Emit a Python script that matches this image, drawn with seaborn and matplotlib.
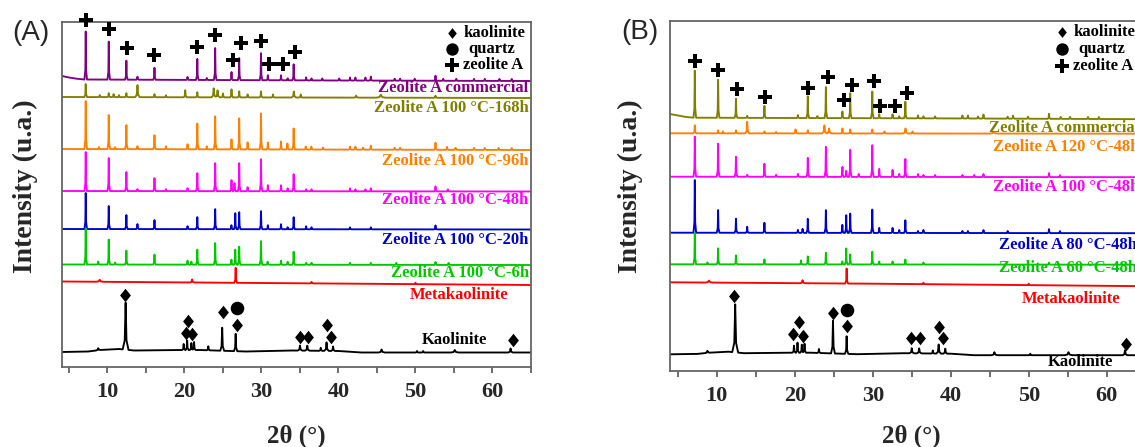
import numpy as np
import matplotlib
matplotlib.use("Agg")
import matplotlib.pyplot as plt
import seaborn as sns
from matplotlib.ticker import MultipleLocator
from matplotlib.path import Path

# ---------------- DATA ----------------
XLIM_A = (4.1, 65.0)
XLIM_B = (4.0, 65.0)

# Panel A samples: baseline anchors (2theta, level) + peaks (2theta, height[, width])
A_comm_bx = [4.1, 5.0, 6.0, 7.0, 40.0, 65.0]
A_comm_by = [291, 289.5, 288.3, 287.5, 286.5, 286]
A_comm_pos = [7.18, 10.17, 12.46, 13.9, 16.11, 20.4, 21.67, 22.9, 23.99, 26.11, 27.11, 29.94, 30.83, 32.54, 33.4, 34.18,
              35.8, 36.5, 37.9, 40.1, 41.5, 42.2, 43.5, 44.2, 47.3, 48.0, 49.9, 52.6, 53.6, 55.3, 57.6, 59.0, 60.9, 62.5]
A_comm_h = [48, 38, 19, 3, 12, 3, 21, 2, 32, 8, 22, 27, 5, 5, 2, 16,
            3, 2, 2, 2, 3, 3, 3, 4, 2, 2, 2, 5, 2, 2, 2, 2, 2, 2]

A_168_bx = [4.1, 65.0]
A_168_by = [270, 269]
A_168_pos = [7.18, 9.0, 10.17, 10.8, 11.5, 12.46, 13.9, 16.11, 17.6, 20.1, 21.67, 23.8, 24.3, 25.0, 26.11, 27.11,
             28.2, 29.94, 31.5, 34.2, 35.1, 42.3, 45.5, 52.6]
A_168_h = [13, 2, 4, 3, 2, 4, 12, 3, 2, 7, 5, 9, 7, 4, 8, 6, 3, 6, 3, 6, 3, 2, 3, 2]
A_168_w = [0.18, 0.18, 0.18, 0.18, 0.18, 0.18, 0.3, 0.18, 0.18, 0.2, 0.18, 0.3, 0.3, 0.2, 0.18, 0.18,
           0.2, 0.2, 0.2, 0.3, 0.2, 0.3, 0.6, 0.2]

A_96_bx = [4.1, 65.0]
A_96_by = [218, 217]
A_96_pos = [7.18, 8.9, 10.17, 11.0, 12.46, 13.9, 16.11, 17.6, 20.4, 21.67, 22.9, 23.99, 26.11, 27.11, 28.2, 29.94,
            30.83, 32.54, 33.37, 34.18, 35.75, 36.48, 38.0, 41.5, 42.2, 43.2, 44.2, 47.3, 48.0, 52.6, 54.1, 55.2,
            57.6, 59.0, 60.8, 62.5]
A_96_h = [48, 2, 34, 2, 24, 3, 14, 3, 5, 25.7, 3, 33, 10, 31, 7, 36,
          7, 8, 6, 21, 3, 3, 2, 3, 3, 2, 4, 2, 2, 7, 3, 2, 2, 2, 2, 2]

A_48_bx = [4.1, 65.0]
A_48_by = [176, 175.5]
A_48_pos = [7.18, 10.17, 12.46, 13.9, 16.11, 17.6, 20.4, 21.67, 23.99, 26.11, 26.5, 27.11, 28.2, 29.94, 30.83, 32.54,
            33.4, 34.18, 35.8, 36.5, 41.5, 42.2, 43.5, 44.2, 52.6, 54.2]
A_48_h = [39, 33, 19, 2, 13, 2, 3, 18, 28, 11, 8, 28, 4, 32, 6, 6, 3, 17, 2, 2, 3, 2, 2, 3, 5, 2]

A_20_bx = [4.1, 65.0]
A_20_by = [138, 137.5]
A_20_pos = [7.18, 10.17, 12.46, 13.9, 16.11, 20.4, 21.67, 23.99, 26.1, 26.6, 27.11, 29.94, 30.83, 32.54, 33.4, 34.18,
            35.8, 36.5, 41.5, 44.2, 52.6]
A_20_h = [36, 23, 14, 5, 9, 3, 12, 20, 4, 16, 17, 18, 4, 5, 2, 12, 3, 2, 2, 2, 4]

A_6_bx = [4.1, 65.0]
A_6_by = [102.5, 102]
A_6_pos = [7.18, 8.8, 10.17, 11.0, 12.46, 16.11, 20.4, 20.9, 21.67, 23.99, 26.1, 26.6, 27.11, 29.94, 30.8, 32.54,
           33.4, 34.18, 35.8, 36.5, 41.5, 44.2, 47.5, 52.6, 54.3]
A_6_h = [36, 3, 25, 2, 14, 10, 4, 3, 15, 21.6, 5, 15, 18, 23.6, 3, 4, 3, 13, 2, 2, 2, 2, 2, 3, 2]

A_meta_bx = [4.1, 30.0, 65.0]
A_meta_by = [85.5, 84, 82]
A_meta_pos = [9.0, 21.0, 26.65, 36.5, 50.0]
A_meta_h = [2, 3, 15, 1.5, 1.5]
A_meta_w = [0.5, 0.3, 0.18, 0.2, 0.2]

A_kao_bx = [4.1, 7.5, 9.0, 11.5, 13.5, 19.5, 22.0, 28.0, 34.0, 40.0, 43.0, 65.0]
A_kao_by = [15, 15.5, 17, 18, 16.5, 17, 17, 15.5, 16.5, 16, 14.5, 14.5]
A_kao_pos = [8.8, 12.36, 19.9, 20.35, 20.9, 21.25, 23.1, 24.9, 26.65, 35.0, 35.95, 37.7, 38.45, 39.3, 45.6, 50.2,
             51.0, 55.1, 62.35]
A_kao_h = [2, 47, 6, 9.5, 7, 8, 4, 23, 17.3, 5, 5, 3, 8.5, 4.5, 3, 1.5, 1.5, 2.5, 4]
A_kao_w = [0.3, 0.38, 0.2, 0.2, 0.2, 0.2, 0.2, 0.25, 0.22, 0.3, 0.3, 0.2, 0.3, 0.25, 0.4, 0.2, 0.2, 0.5, 0.3]

# Panel B samples
B_comm_bx = [4.0, 5.0, 6.0, 7.0, 20.0, 40.0, 65.0]
B_comm_by = [256.7, 255.2, 253.8, 253, 252.7, 252.3, 251.5]
B_comm_pos = [7.18, 10.17, 12.46, 13.9, 16.11, 20.4, 21.67, 22.9, 23.99, 26.11, 27.11, 29.94, 30.83, 32.54, 33.4, 34.18,
              35.8, 36.5, 38.0, 41.5, 42.2, 43.5, 44.2, 47.3, 48.0, 49.9, 52.6, 54.1, 55.3, 57.6, 59.0]
B_comm_h = [47, 38, 19, 2, 12, 3, 21.6, 2, 31, 6.6, 25, 26.6, 4, 4, 2, 16.6,
            3, 2, 2, 3, 3, 2, 4, 2, 3, 2, 5, 2, 2, 2, 2]

B_120_bx = [4.0, 65.0]
B_120_by = [237.4, 237]
B_120_pos = [7.18, 10.17, 10.8, 12.46, 13.9, 16.11, 17.6, 20.1, 21.67, 23.8, 24.4, 26.11, 27.11, 29.94, 31.5, 34.2,
             35.1, 45.5]
B_120_h = [8, 3, 2, 3, 11.6, 2, 1.5, 4, 3, 8, 5, 5, 4, 4, 2, 5, 2, 2]
B_120_w = [0.18, 0.18, 0.18, 0.18, 0.25, 0.18, 0.18, 0.2, 0.18, 0.3, 0.3, 0.18, 0.18, 0.18, 0.2, 0.3, 0.2, 0.5]

B_100_bx = [4.0, 65.0]
B_100_by = [194, 193.5]
B_100_pos = [7.18, 10.17, 12.46, 13.9, 16.11, 17.6, 20.4, 21.67, 23.99, 26.11, 26.6, 27.11, 28.2, 29.94, 30.83, 32.54,
             33.4, 34.18, 35.8, 36.5, 38.0, 41.5, 43.0, 44.2, 52.6, 54.0]
B_100_h = [40, 33, 20, 2, 13, 2, 3, 19, 30, 10, 6, 27, 3, 31.7, 8, 7, 3, 18, 3, 2, 2, 2, 2, 3, 4, 2]

B_80_bx = [4.0, 65.0]
B_80_by = [138, 137.5]
B_80_pos = [7.18, 10.17, 12.46, 13.9, 16.11, 20.4, 21.0, 21.67, 23.99, 26.1, 26.6, 27.11, 29.94, 30.83, 32.54, 33.4,
            34.18, 35.8, 36.5, 41.5, 42.2, 44.2, 47.3, 52.6, 54.0]
B_80_h = [52.7, 22.7, 14, 6, 10, 3, 4, 14, 22.7, 8, 17.7, 19.3, 23.3, 5, 5, 3, 12.7, 2, 3, 2, 2, 3, 2, 4, 2]

B_60_bx = [4.0, 65.0]
B_60_by = [106.4, 106]
B_60_pos = [7.18, 8.8, 10.17, 12.46, 16.11, 20.8, 21.67, 23.99, 26.1, 26.6, 27.11, 29.94, 30.83, 32.54, 34.18, 36.5,
            52.6]
B_60_h = [31, 2, 16, 9, 5, 4, 8, 11.7, 3, 16, 10, 12.7, 3, 3, 5, 2, 2]

B_meta_bx = [4.0, 30.0, 65.0]
B_meta_by = [88.4, 87, 84.5]
B_meta_pos = [9.0, 21.0, 26.65, 36.5, 50.0]
B_meta_h = [2, 3, 15, 1.5, 1.5]
B_meta_w = [0.5, 0.3, 0.18, 0.2, 0.2]

B_kao_bx = [4.0, 7.5, 9.0, 11.5, 13.5, 19.5, 22.0, 28.0, 34.0, 40.0, 43.0, 65.0]
B_kao_by = [16.4, 16.8, 18, 19, 17.5, 18, 18, 16.5, 17.5, 17, 15.5, 15.5]
B_kao_pos = [8.8, 12.36, 19.9, 20.35, 20.9, 21.25, 23.1, 24.9, 26.65, 35.0, 35.95, 37.7, 38.45, 39.3, 45.6, 50.2,
             55.1, 62.35]
B_kao_h = [2, 48, 7, 10, 8, 9, 4, 32.6, 17.6, 5, 5, 3, 9, 5, 3, 1.5, 3, 5]
B_kao_w = [0.3, 0.38, 0.2, 0.2, 0.2, 0.2, 0.2, 0.25, 0.22, 0.3, 0.3, 0.2, 0.3, 0.25, 0.4, 0.2, 0.5, 0.3]

# Phase markers
A_zeo_x = [7.2, 10.2, 12.5, 16.1, 21.6, 24.0, 26.3, 27.3, 30.0, 31.0, 32.8, 34.4]
A_zeo_y = [347, 338, 319, 312, 320, 332, 307, 324, 326, 303, 303, 315]
A_kao_mx = [12.3, 20.15, 20.5, 21.0, 25.0, 26.8, 35.0, 36.1, 38.5, 39.0, 62.6]
A_kao_my = [72, 34.3, 46.3, 32.7, 55.3, 42, 30.3, 30.3, 42, 29.7, 27]
A_qtz_x = [26.8]
A_qtz_y = [58.7]

B_zeo_x = [7.2, 10.2, 12.56, 16.2, 21.7, 24.2, 26.3, 27.3, 30.1, 30.9, 32.8, 34.4]
B_zeo_y = [309.7, 300.7, 281.4, 274, 282.4, 294, 270.7, 285.7, 289.7, 264.7, 264.7, 278]
B_kao_mx = [12.2, 19.8, 20.5, 21.0, 24.9, 26.7, 34.9, 36.1, 38.5, 39.05, 62.5]
B_kao_my = [74.7, 36.4, 49, 34.7, 57.4, 44.7, 33, 33, 44, 32.4, 26.7]
B_qtz_x = [26.7]
B_qtz_y = [60.7]

A_names = ["Zeolite A commercial", "Zeolite A 100 °C-168h", "Zeolite A 100 °C-96h", "Zeolite A 100 °C-48h",
           "Zeolite A 100 °C-20h", "Zeolite A 100 °C-6h", "Metakaolinite", "Kaolinite"]
B_names = ["Zeolite A commercial", "Zeolite A 120 °C-48h", "Zeolite A 100 °C-48h", "Zeolite A 80 °C-48h",
           "Zeolite A 60 °C-48h", "Metakaolinite", "Kaolinite"]

# ---------------- STYLE ----------------
PURPLE, OLIVE, ORANGE, MAGENTA = "#800080", "#808000", "#FF7F00", "#FF00FF"
BLUE, GREEN, RED, BLACK = "#0000CD", "#00C800", "#FF0000", "#000000"

sns.set_theme(style="white")
plt.rcParams['font.family'] = ['Liberation Serif', 'DejaVu Serif']

W, H = 1135, 447
fig = plt.figure(figsize=(W / 100, H / 100), dpi=100)


def px_axes(l, t, r, b):
    return fig.add_axes([l / W, 1 - b / H, (r - l) / W, (b - t) / H])


axA = px_axes(62, 22, 531, 367)
axB = px_axes(670, 20.5, 1145.7, 370.7)
axA.set_xlim(*XLIM_A); axA.set_ylim(0, 345)
axB.set_xlim(*XLIM_B); axB.set_ylim(0, 350.2)


def profile(xlim, bx, by, pos, hgt, wid=None, w0=0.17):
    pos = np.asarray(pos, float)
    hgt = np.asarray(hgt, float)
    wid = np.full(len(pos), w0) if wid is None else np.asarray(wid, float)
    shape_dx = np.array([-1.0, -0.3, 0.0, 0.3, 1.0])
    shape_dy = np.array([0.0, 0.2, 1.0, 0.2, 0.0])
    xs = [xlim[0], xlim[1]] + list(bx)
    for p, w in zip(pos, wid):
        xs += list(p + shape_dx * w)
    xs = np.unique(np.clip(xs, xlim[0], xlim[1]))
    ys = np.interp(xs, bx, by)
    for p, h, w in zip(pos, hgt, wid):
        ys += np.interp(xs, p + shape_dx * w, shape_dy * h, left=0, right=0)
    return xs, ys


def draw(ax, xlim, bx, by, pos, hgt, color, wid=None):
    xs, ys = profile(xlim, bx, by, pos, hgt, wid)
    sns.lineplot(x=xs, y=ys, ax=ax, color=color, linewidth=1.35, estimator=None, sort=False)


draw(axA, XLIM_A, A_comm_bx, A_comm_by, A_comm_pos, A_comm_h, PURPLE)
draw(axA, XLIM_A, A_168_bx, A_168_by, A_168_pos, A_168_h, OLIVE, A_168_w)
draw(axA, XLIM_A, A_96_bx, A_96_by, A_96_pos, A_96_h, ORANGE)
draw(axA, XLIM_A, A_48_bx, A_48_by, A_48_pos, A_48_h, MAGENTA)
draw(axA, XLIM_A, A_20_bx, A_20_by, A_20_pos, A_20_h, BLUE)
draw(axA, XLIM_A, A_6_bx, A_6_by, A_6_pos, A_6_h, GREEN)
draw(axA, XLIM_A, A_meta_bx, A_meta_by, A_meta_pos, A_meta_h, RED, A_meta_w)
draw(axA, XLIM_A, A_kao_bx, A_kao_by, A_kao_pos, A_kao_h, BLACK, A_kao_w)

draw(axB, XLIM_B, B_comm_bx, B_comm_by, B_comm_pos, B_comm_h, OLIVE)
draw(axB, XLIM_B, B_120_bx, B_120_by, B_120_pos, B_120_h, ORANGE, B_120_w)
draw(axB, XLIM_B, B_100_bx, B_100_by, B_100_pos, B_100_h, MAGENTA)
draw(axB, XLIM_B, B_80_bx, B_80_by, B_80_pos, B_80_h, BLUE)
draw(axB, XLIM_B, B_60_bx, B_60_by, B_60_pos, B_60_h, GREEN)
draw(axB, XLIM_B, B_meta_bx, B_meta_by, B_meta_pos, B_meta_h, RED, B_meta_w)
draw(axB, XLIM_B, B_kao_bx, B_kao_by, B_kao_pos, B_kao_h, BLACK, B_kao_w)

DIAMOND = Path([(0, 1), (0.8, 0), (0, -1), (-0.8, 0), (0, 1)], closed=True)


def markers(ax, zx, zy, kx, ky, qx, qy):
    sns.scatterplot(x=zx, y=zy, ax=ax, marker='P', s=110, color='black', linewidth=0, clip_on=False, zorder=6)
    sns.scatterplot(x=kx, y=ky, ax=ax, marker=DIAMOND, s=95, color='black', linewidth=0, clip_on=False, zorder=6)
    sns.scatterplot(x=qx, y=qy, ax=ax, marker='o', s=95, color='black', linewidth=0, clip_on=False, zorder=6)


markers(axA, A_zeo_x, A_zeo_y, A_kao_mx, A_kao_my, A_qtz_x, A_qtz_y)
markers(axB, B_zeo_x, B_zeo_y, B_kao_mx, B_kao_my, B_qtz_x, B_qtz_y)


def key(ax, x_sym, x_txt, ys):
    sns.scatterplot(x=[x_sym], y=[ys[0]], ax=ax, marker=DIAMOND, s=60, color='black', linewidth=0, zorder=6)
    sns.scatterplot(x=[x_sym], y=[ys[1]], ax=ax, marker='o', s=80, color='black', linewidth=0, zorder=6)
    sns.scatterplot(x=[x_sym], y=[ys[2]], ax=ax, marker='P', s=100, color='black', linewidth=0, zorder=6)
    kw = dict(fontsize=12, fontweight='bold', va='center', ha='left', color='black')
    ax.text(x_txt, ys[0], "kaolinite", **kw)
    ax.text(x_txt + 0.7, ys[1], "quartz", **kw)
    ax.text(x_txt, ys[2], "zeolite A", **kw)


key(axA, 54.7, 56.2, [334, 318, 302])
key(axB, 54.3, 55.7, [339, 321.4, 304.7])

lab = dict(fontsize=12, fontweight='bold', va='center')
A_lab_y = [278.7, 258.7, 206.3, 167, 127, 93.7, 72, 27]
A_cols = [PURPLE, OLIVE, ORANGE, MAGENTA, BLUE, GREEN, RED, BLACK]
for name, yy, c in zip(A_names[:6], A_lab_y[:6], A_cols[:6]):
    axA.text(64.7, yy, name, color=c, ha='right', **lab)
axA.text(62.0, A_lab_y[6], A_names[6], color=RED, ha='right', **lab)
axA.text(55.1, A_lab_y[7], A_names[7], color=BLACK, ha='center', **lab)

B_lab_x = [44.9, 45.4, 45.4, 46.2, 46.2]
B_lab_y = [242.4, 224, 184, 125.7, 102.7, 71.7, 8.4]
B_cols = [OLIVE, ORANGE, MAGENTA, BLUE, GREEN, RED, BLACK]
for name, xx, yy, c in zip(B_names[:5], B_lab_x, B_lab_y[:5], B_cols[:5]):
    axB.text(xx, yy, name, color=c, ha='left', clip_on=False, **lab)
axB.text(55.4, B_lab_y[5], B_names[5], color=RED, ha='center', **lab)
axB.text(56.6, B_lab_y[6], B_names[6], color=BLACK, ha='center', **lab)

for ax in (axA, axB):
    ax.set_yticks([])
    ax.set_ylabel("")
    ax.set_xlabel("")
    ax.xaxis.set_major_locator(MultipleLocator(10))
    ax.xaxis.set_minor_locator(MultipleLocator(5))
    ax.tick_params(axis='x', which='both', direction='out', length=4, width=1.2, color='#555555',
                   bottom=True, pad=7, labelsize=16)
    for lbl in ax.get_xticklabels():
        lbl.set_fontweight('bold')
    for s in ax.spines.values():
        s.set_color('#666666')
        s.set_linewidth(1.3)
        s.set_visible(True)

# axis titles
fig.text(296.5 / W, 1 - 436 / H, "2θ (°)", ha='center', va='center', fontsize=18, fontweight='bold')
fig.text(911 / W, 1 - 436 / H, "2θ (°)", ha='center', va='center', fontsize=18, fontweight='bold')
fig.text(25 / W, 1 - 186 / H, "Intensity (u.a.)", rotation=90, ha='center', va='center', fontsize=20,
         fontweight='bold')
fig.text(630 / W, 1 - 186 / H, "Intensity (u.a.)", rotation=90, ha='center', va='center', fontsize=20,
         fontweight='bold')
fig.text(31 / W, 1 - 33 / H, "(A)", ha='center', va='center', fontsize=20, family='Liberation Sans')
fig.text(640 / W, 1 - 32 / H, "(B)", ha='center', va='center', fontsize=20, family='Liberation Sans')

fig.savefig("out.png", dpi=100)
